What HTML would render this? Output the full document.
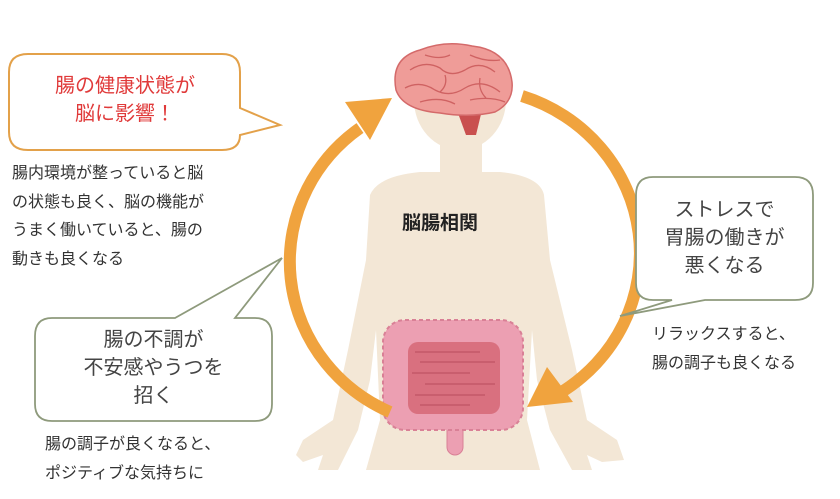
<!DOCTYPE html>
<html><head><meta charset="utf-8"><style>
html,body{margin:0;padding:0;background:#fff;}
body{width:840px;height:499px;overflow:hidden;position:relative;font-family:"Liberation Sans","Noto Sans CJK JP",sans-serif;}
.t{position:absolute;white-space:nowrap;}
</style></head><body>
<svg width="840" height="499" style="position:absolute;left:0;top:0">
<g fill="#f3e7d6">
<ellipse cx="460" cy="100" rx="46" ry="50"/>
<rect x="440" y="130" width="42" height="50"/>
<path d="M370 195 Q378 176 420 172 L500 172 Q540 176 544 195 L550 260 L572 350 L587 420 L617 440 L624 460 L602 462 L587 455 L592 470 L572 470 L550 430 L537 380 L532 330 L527 420 L540 470 L366 470 L380 420 L376 330 L370 380 L358 430 L338 470 L318 470 L323 455 L303 462 L296 455 L303 440 L333 420 L348 350 L366 260 Z"/>
</g>
<path d="M455 105 L466 135 L476 135 L482 110 Z" fill="#c9504f"/>
<path d="M396 90 Q390 58 420 50 Q445 40 472 46 Q508 50 512 82 Q514 102 495 112 Q470 118 440 113 Q403 110 396 90 Z" fill="#ef9c98" stroke="#d46a6a" stroke-width="1.5"/>
<g fill="none" stroke="#cf6262" stroke-width="1.3">
<path d="M410 70 Q425 60 440 68 Q450 78 465 70 Q480 60 495 72"/>
<path d="M405 88 Q420 80 435 90 Q450 98 465 88 Q482 78 500 92"/>
<path d="M425 55 Q440 60 450 55 M470 55 Q485 62 500 60"/>
<path d="M420 102 Q440 96 455 104 M470 100 Q490 96 505 102"/>
<path d="M445 75 Q448 85 440 92 M480 78 Q478 90 486 98"/>
</g>
<rect x="447" y="415" width="16" height="40" rx="8" fill="#ec9fb2" stroke="#d98096"/>
<rect x="383" y="320" width="140" height="110" rx="22" fill="#ec9fb2" stroke="#d98096" stroke-width="2" stroke-dasharray="4 3"/>
<rect x="408" y="342" width="92" height="72" rx="10" fill="#d9707f"/>
<g stroke="#b94b5e" stroke-width="1">
<line x1="415" y1="352" x2="480" y2="352"/><line x1="420" y1="362" x2="495" y2="362"/>
<line x1="412" y1="373" x2="470" y2="373"/><line x1="425" y1="384" x2="495" y2="384"/>
<line x1="415" y1="395" x2="485" y2="395"/><line x1="420" y1="405" x2="470" y2="405"/>
</g>
<g fill="none" stroke="#f0a33e" stroke-width="12">
<path d="M390 412 A170 165 0 0 1 360 128"/>
<path d="M522 96 A170 165 0 0 1 560 393"/>
</g>
<polygon points="392,98 345,102 370,140" fill="#f0a33e"/>
<polygon points="527,407 547,367 573,402" fill="#f0a33e"/>
<path d="M28 54 L222 54 Q240 54 240 72 L240 108 L280 125 L240 135 Q240 150 222 150 L28 150 Q9 150 9 132 L9 72 Q9 54 28 54 Z" fill="#fff" stroke="#e3a14a" stroke-width="2"/>
<path d="M52 318 L175 318 L282 258 L235 318 L255 318 Q272 318 272 336 L272 404 Q272 421 255 421 L52 421 Q35 421 35 404 L35 336 Q35 318 52 318 Z" fill="#fff" stroke="#8e9a7c" stroke-width="1.8"/>
<path d="M653 177 L795 177 Q813 177 813 195 L813 283 Q813 300 795 300 L705 300 L620 316 L672 300 L653 300 Q636 300 636 283 L636 195 Q636 177 653 177 Z" fill="#fff" stroke="#8e9a7c" stroke-width="1.8"/>
</svg>
<div class="t" style="left:0;width:250px;text-align:center;top:72px;font-size:20px;line-height:28px;color:#e03a3a">腸の健康状態が<br>脳に影響！</div>
<div class="t" style="left:12px;top:160px;font-size:16px;line-height:28.5px;color:#333">腸内環境が整っていると脳<br>の状態も良く、脳の機能が<br>うまく働いていると、腸の<br>動きも良くなる</div>
<div class="t" style="left:35px;width:237px;text-align:center;top:326px;font-size:20px;line-height:28px;color:#444">腸の不調が<br>不安感やうつを<br>招く</div>
<div class="t" style="left:45px;top:430px;font-size:16px;line-height:29px;color:#333">腸の調子が良くなると、<br>ポジティブな気持ちに</div>
<div class="t" style="left:636px;width:177px;text-align:center;top:196px;font-size:20px;line-height:28px;color:#444">ストレスで<br>胃腸の働きが<br>悪くなる</div>
<div class="t" style="left:652px;top:320px;font-size:16px;line-height:29px;color:#333">リラックスすると、<br>腸の調子も良くなる</div>
<div class="t" style="left:402px;top:208px;font-size:19px;font-weight:bold;color:#222">脳腸相関</div>
</body></html>
